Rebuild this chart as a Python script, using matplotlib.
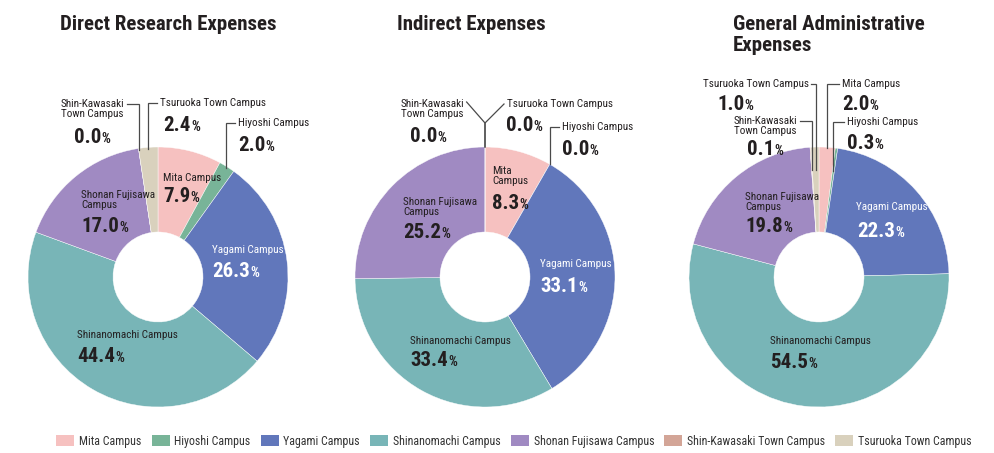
import numpy as np
import matplotlib.pyplot as plt
from matplotlib.patches import Patch

W, H = 995, 453
NARROW = ['Roboto Condensed', 'Archivo Narrow', 'IBM Plex Sans Condensed', 'DejaVu Sans']
DARK = '#231f20'

campuses = ['Mita Campus', 'Hiyoshi Campus', 'Yagami Campus', 'Shinanomachi Campus',
            'Shonan Fujisawa Campus', 'Shin-Kawasaki Town Campus', 'Tsuruoka Town Campus']
colors = ['#f6c1c0', '#78b498', '#6177bb', '#78b5b7', '#a08ac2', '#d3a597', '#d9d1bd']
titles = ['Direct Research Expenses', 'Indirect Expenses', 'General Administrative\nExpenses']

# percentage shares, same order as campuses
direct = [7.9, 2.0, 26.3, 44.4, 17.0, 0.0, 2.4]
indirect = [8.3, 0.0, 33.1, 33.4, 25.2, 0.0, 0.0]
general = [2.0, 0.3, 22.3, 54.5, 19.8, 0.1, 1.0]
series = [direct, indirect, general]

# layout in pixels (y measured from the top)
centers = [(158, 277), (485, 277), (819, 277)]
R_OUT, R_IN = 130, 45
title_pos = [(60, 30), (397, 30), (733, 30)]

# campus index -> (name, name x, name centre y, value x, value centre y, colour, leader)
# leader = (side of the name it starts from, start y, elbow y, end radius)
layouts = [
    {
        0: ('Mita Campus', 163, 178, 163, 195, DARK, None),
        1: ('Hiyoshi Campus', 238, 123, 238, 144, DARK, ('l', 123, 123, 128)),
        2: ('Yagami Campus', 212, 250, 212, 270, 'white', None),
        3: ('Shinanomachi Campus', 77, 335, 77, 355, DARK, None),
        4: ('Shonan Fujisawa\nCampus', 81, 200, 81, 225, DARK, None),
        5: ('Shin-Kawasaki\nTown Campus', 61, 109, 74, 136, DARK, ('r', 104, 104, 128)),
        6: ('Tsuruoka Town Campus', 160, 103, 163, 124, DARK, ('l', 103, 103, 128)),
    },
    {
        0: ('Mita\nCampus', 492, 176, 492, 202, DARK, None),
        1: ('Hiyoshi Campus', 562, 127, 562, 148, DARK, ('l', 127, 127, 130)),
        2: ('Yagami Campus', 540, 264, 540, 285, 'white', None),
        3: ('Shinanomachi Campus', 410, 341, 410, 359, DARK, None),
        4: ('Shonan Fujisawa\nCampus', 403, 207, 403, 231, DARK, None),
        5: ('Shin-Kawasaki\nTown Campus', 401, 109, 410, 135, DARK, ('r', 102, 123, 130)),
        6: ('Tsuruoka Town Campus', 507, 104, 506, 124, DARK, ('l', 104, 123, 130)),
    },
    {
        0: ('Mita Campus', 842, 84, 842, 103, DARK, ('l', 84, 84, 129)),
        1: ('Hiyoshi Campus', 847, 122, 847, 142, DARK, ('l', 122, 122, 107)),
        2: ('Yagami Campus', 856, 207, 857, 230, 'white', None),
        3: ('Shinanomachi Campus', 770, 341, 770, 361, DARK, None),
        4: ('Shonan Fujisawa\nCampus', 745, 202, 745, 225, DARK, None),
        5: ('Shin-Kawasaki\nTown Campus', 734, 126, 747, 148, DARK, ('r', 121, 121, 107)),
        6: ('Tsuruoka Town Campus', 703, 84, 717, 103, DARK, ('r', 84, 84, 107)),
    },
]


def Y(y):
    return H - y


fig = plt.figure(figsize=(W / 100, H / 100), dpi=100)
ax = fig.add_axes([0, 0, 1, 1])
ax.set_xlim(0, W)
ax.set_ylim(0, H)
ax.axis('off')
renderer = fig.canvas.get_renderer()

for k, vals in enumerate(series):
    cx, cy = centers[k]
    ax.pie(vals, colors=colors, startangle=90, counterclock=False, radius=R_OUT,
           center=(cx, Y(cy)), frame=True,
           wedgeprops=dict(width=R_OUT - R_IN, edgecolor='white', linewidth=0.3))

    tx, ty = title_pos[k]
    for j, line in enumerate(titles[k].split('\n')):
        ax.text(tx, Y(ty + 21 * j), line, fontsize=15, fontweight='bold', color=DARK,
                family=NARROW, ha='left', va='baseline')

    cum = 0.0
    for i, v in enumerate(vals):
        mid = 90 - 360 * (cum + v / 2) / 100
        cum += v
        name, nx, ny, vx, vy, col, leader = layouts[k][i]
        nt = ax.text(nx, Y(ny), name, fontsize=8, color=col, family=NARROW,
                     ha='left', va='center', linespacing=0.95)
        t = ax.text(vx, Y(vy + 7), f'{v:.1f}', fontsize=15, fontweight='bold', color=col,
                    family=NARROW, ha='left', va='baseline')
        x1 = t.get_window_extent(renderer).x1
        ax.text(x1 + 0.5, Y(vy + 7), '%', fontsize=10, fontweight='bold', color=col,
                family=NARROW, ha='left', va='baseline')
        if leader is not None:
            side, sy, ey, rr = leader
            bb = nt.get_window_extent(renderer)
            sx = bb.x1 + 2 if side == 'r' else bb.x0 - 3
            px = cx + rr * np.cos(np.radians(mid))
            py = cy - rr * np.sin(np.radians(mid))
            ax.plot([sx, px, px], [Y(sy), Y(ey), Y(py)], color='#4a4a4a', lw=0.9,
                    solid_joinstyle='miter')

ax.set_xlim(0, W)
ax.set_ylim(0, H)
ax.set_aspect('auto')

handles = [Patch(facecolor=c, edgecolor='none') for c in colors]
fig.legend(handles, campuses, ncol=7, loc='center', bbox_to_anchor=(514 / W, 1 - 441 / H),
           frameon=False, handlelength=1.5, handleheight=1.0, handletextpad=0.4,
           columnspacing=0.85, prop={'family': NARROW, 'size': 8.6}, labelcolor='#333333')

fig.savefig('out.png', dpi=100)
